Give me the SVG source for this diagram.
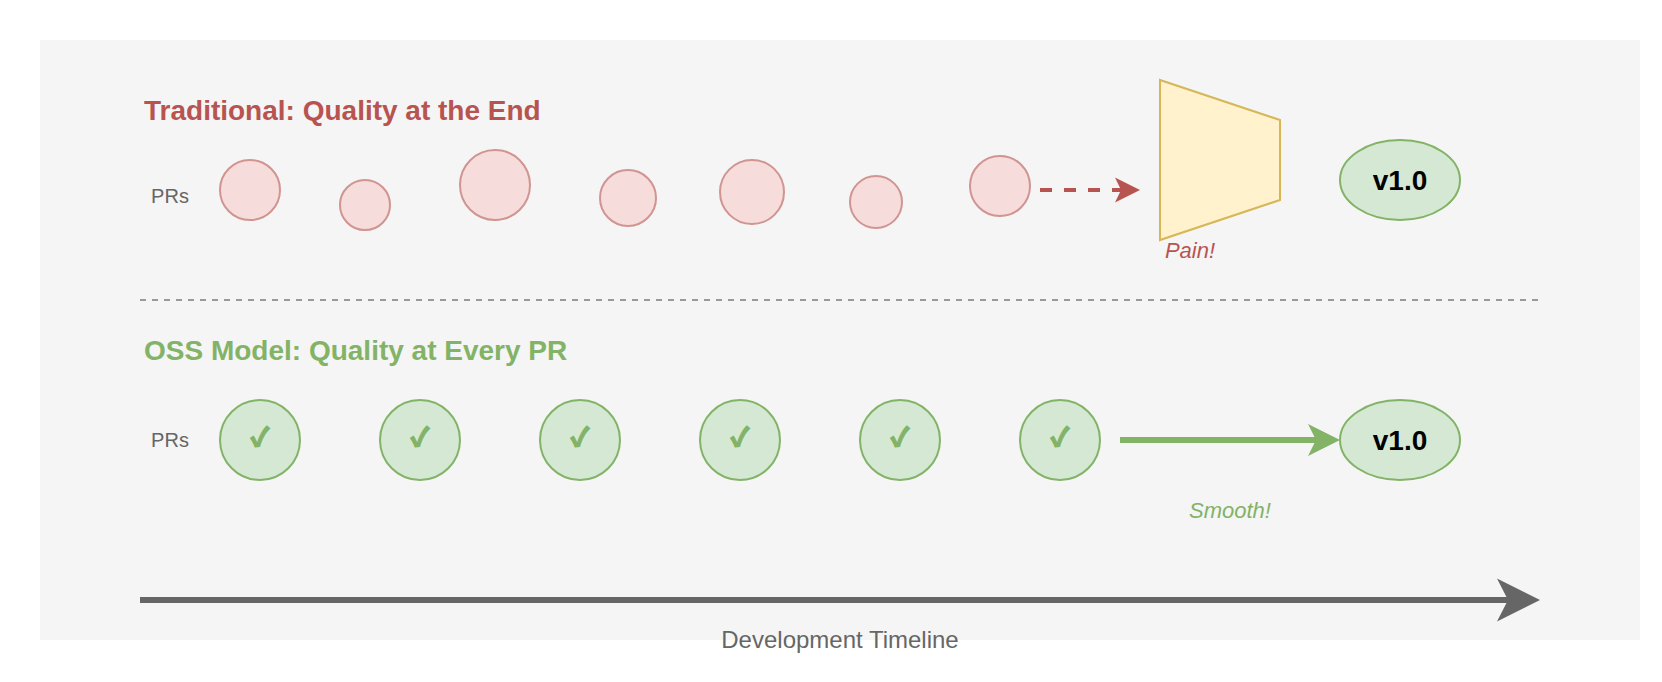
<svg xmlns="http://www.w3.org/2000/svg" width="1662" height="682" viewBox="0 0 1662 682">
<style>
text{font-family:"Liberation Sans",Arial,sans-serif}
.pr{fill:#f8cecc;stroke:#b85450;stroke-width:2;opacity:.6}
.ok{fill:#d5e8d4;stroke:#82b366;stroke-width:2}
.chk{font-family:"Noto Sans CJK SC",sans-serif;font-size:26px;font-weight:900;fill:#82b366;stroke:#82b366;stroke-width:1;text-anchor:middle}
.rel{font-size:28px;font-weight:bold;fill:#000;text-anchor:middle}
.lbl{font-size:20px;fill:#666;text-anchor:middle}
.ttl{font-size:28px;font-weight:bold}
.note{font-size:22px;font-style:italic;text-anchor:middle}
</style>
<rect id="background" x="40" y="40" width="1600" height="600" fill="#f5f5f5"/>
<text class="ttl" x="144" y="120" fill="#b85450">Traditional: Quality at the End</text>
<text class="ttl" x="144" y="360" fill="#82b366">OSS Model: Quality at Every PR</text>
<text class="lbl" x="170" y="203">PRs</text>
<text class="lbl" x="170" y="447">PRs</text>
<g id="pr-t1"><circle class="pr" cx="250" cy="190" r="30"/></g>
<g id="pr-t2"><circle class="pr" cx="365" cy="205" r="25"/></g>
<g id="pr-t3"><circle class="pr" cx="495" cy="185" r="35"/></g>
<g id="pr-t4"><circle class="pr" cx="628" cy="198" r="28"/></g>
<g id="pr-t5"><circle class="pr" cx="752" cy="192" r="32"/></g>
<g id="pr-t6"><circle class="pr" cx="876" cy="202" r="26"/></g>
<g id="pr-t7"><circle class="pr" cx="1000" cy="186" r="30"/></g>
<g id="bottleneck"><polygon points="1160,80 1280,120 1280,200 1160,240" fill="#fff2cc" stroke="#d6b656" stroke-width="2"/>
<text class="note" x="1190" y="258" fill="#b85450">Pain!</text></g>
<g id="release-t"><ellipse class="ok" cx="1400" cy="180" rx="60" ry="40"/><text class="rel" x="1400" y="190">v1.0</text></g>
<g id="pr-o1"><circle class="ok" cx="260" cy="440" r="40"/><text class="chk" x="260" y="446">✓</text></g>
<g id="pr-o2"><circle class="ok" cx="420" cy="440" r="40"/><text class="chk" x="420" y="446">✓</text></g>
<g id="pr-o3"><circle class="ok" cx="580" cy="440" r="40"/><text class="chk" x="580" y="446">✓</text></g>
<g id="pr-o4"><circle class="ok" cx="740" cy="440" r="40"/><text class="chk" x="740" y="446">✓</text></g>
<g id="pr-o5"><circle class="ok" cx="900" cy="440" r="40"/><text class="chk" x="900" y="446">✓</text></g>
<g id="pr-o6"><circle class="ok" cx="1060" cy="440" r="40"/><text class="chk" x="1060" y="446">✓</text></g>
<g id="release-o"><ellipse class="ok" cx="1400" cy="440" rx="60" ry="40"/><text class="rel" x="1400" y="450">v1.0</text></g>
<text class="note" x="1230" y="518" fill="#82b366">Smooth!</text>
<text x="840" y="648" font-size="24" fill="#666" text-anchor="middle">Development Timeline</text>
<g id="connectors">
<line x1="140" y1="300" x2="1540" y2="300" stroke="#999" stroke-width="2" stroke-dasharray="6 6"/>
<line x1="1040" y1="190" x2="1122" y2="190" stroke="#b85450" stroke-width="4" stroke-dasharray="12 12"/>
<polygon points="1140,190 1115,202.500 1121,190 1115,177.500" fill="#b85450"/>
<line x1="1120" y1="440" x2="1316" y2="440" stroke="#82b366" stroke-width="6"/>
<polygon points="1340,440 1308,456 1316,440 1308,424" fill="#82b366"/>
<line x1="140" y1="600" x2="1508" y2="600" stroke="#666" stroke-width="6"/>
<polygon points="1540,600 1497,621.500 1508,600 1497,578.500" fill="#666"/>
</g>
</svg>
